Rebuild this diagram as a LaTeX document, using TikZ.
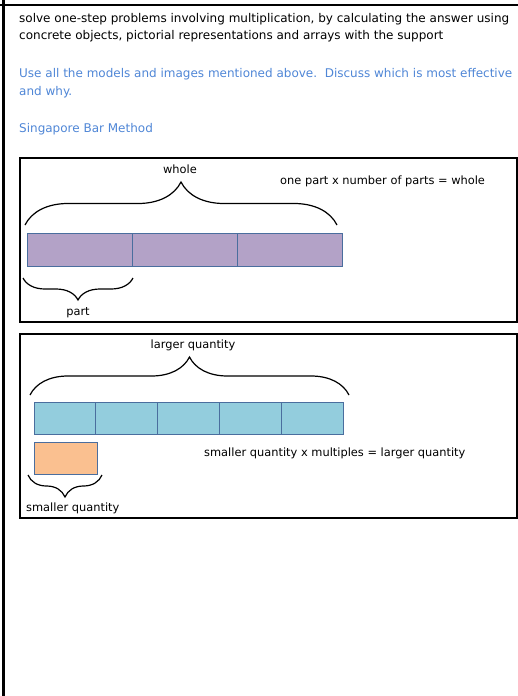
\documentclass[tikz,border=0pt]{standalone}
\usepackage{fontspec}
\setmainfont{DejaVu Sans}
\usepackage{xcolor}
\definecolor{bm-blue}{HTML}{4F86D6}
\definecolor{bm-purple}{HTML}{B3A2C7}
\definecolor{bm-cyan}{HTML}{93CDDD}
\definecolor{bm-orange}{HTML}{FAC090}
\definecolor{bm-edge}{HTML}{4A6E9E}
\usetikzlibrary{positioning,decorations.pathreplacing}

\begin{document}
\begin{tikzpicture}[x=1pt, y=-1pt,
  txt/.style={anchor=base west, inner sep=0pt, font=\fontsize{12}{14}\selectfont},
  note/.style={anchor=base, inner sep=0pt, font=\fontsize{11.4}{13}\selectfont},
  frame/.style={rectangle, draw=black, line width=1.6pt, anchor=north west,
                inner sep=0pt, outer sep=0pt},
  cell/.style={rectangle, draw=bm-edge, line width=0.8pt, inner sep=0pt, outer sep=0pt},
  pcell/.style={cell, fill=bm-purple, minimum width=105pt, minimum height=33pt},
  ccell/.style={cell, fill=bm-cyan, minimum width=61.8pt, minimum height=32pt},
  ocell/.style={cell, fill=bm-orange, minimum width=63pt, minimum height=32pt},
  brc/.style={draw, line width=1.2pt, decorate, decoration={brace, amplitude=#1}},
  node distance=0pt
]
  \useasboundingbox (0,0) rectangle (518,696);

  % page rules
  \coordinate (tl) at (0,5);
  \coordinate (tr) at (518,5);
  \coordinate (lt) at (3.5,0);
  \coordinate (lb) at (3.5,696);
  \draw[line width=2.4pt] (tl) -- (tr);
  \draw[line width=2.4pt] (lt) -- (lb);

  % text
  \node[txt] (t1) at (19,22) {solve one-step problems involving multiplication, by calculating the answer using};
  \node[txt] (t2) at (19,39.5) {concrete objects, pictorial representations and arrays with the support};
  \node[txt, text=bm-blue] (t3) at (19,77.5) {Use all the models and images mentioned above.\ \ Discuss which is most effective};
  \node[txt, text=bm-blue] (t4) at (19,95.5) {and why.};
  \node[txt, text=bm-blue] (t5) at (19,132.5) {Singapore Bar Method};

  % Box 1
  \node[frame, minimum width=497pt, minimum height=164pt] (box1) at (20,158) {};
  \node[pcell, anchor=north west] (p1) at (27,233) {};
  \node[pcell, right=of p1] (p2) {};
  \node[pcell, right=of p2] (p3) {};
  \draw[brc=43pt] ([shift={(-2,-8)}]p1.north west) -- ([shift={(-5,-8)}]p3.north east);
  \draw[brc=22pt] ([shift={(1,12)}]p1.south east) -- ([shift={(-4,12)}]p1.south west);
  \node[note] (whole) at (180,173) {whole};
  \node[note] (part) at (78,315) {part};
  \node[note, anchor=base west] (eq1) at (280,184.5) {one part x number of parts = whole};

  % Box 2
  \node[frame, minimum width=497pt, minimum height=184pt] (box2) at (20,334) {};
  \node[ccell, anchor=north west] (c1) at (34,402) {};
  \node[ccell, right=of c1] (c2) {};
  \node[ccell, right=of c2] (c3) {};
  \node[ccell, right=of c3] (c4) {};
  \node[ccell, right=of c4] (c5) {};
  \node[ocell, anchor=north west] (sq) at ([yshift=-8pt]c1.south west) {};
  \draw[brc=38pt] ([shift={(-4,-7)}]c1.north west) -- ([shift={(6,-7)}]c5.north east);
  \draw[brc=22pt] ([shift={(5,1)}]sq.south east) -- ([shift={(-6,1)}]sq.south west);
  \node[note] (larger) at (193,348.5) {larger quantity};
  \node[note, anchor=base west] (eq2) at (204,456.5) {smaller quantity x multiples = larger quantity};
  \node[note, anchor=base west] (smaller) at (26,511.5) {smaller quantity};
\end{tikzpicture}
\end{document}
